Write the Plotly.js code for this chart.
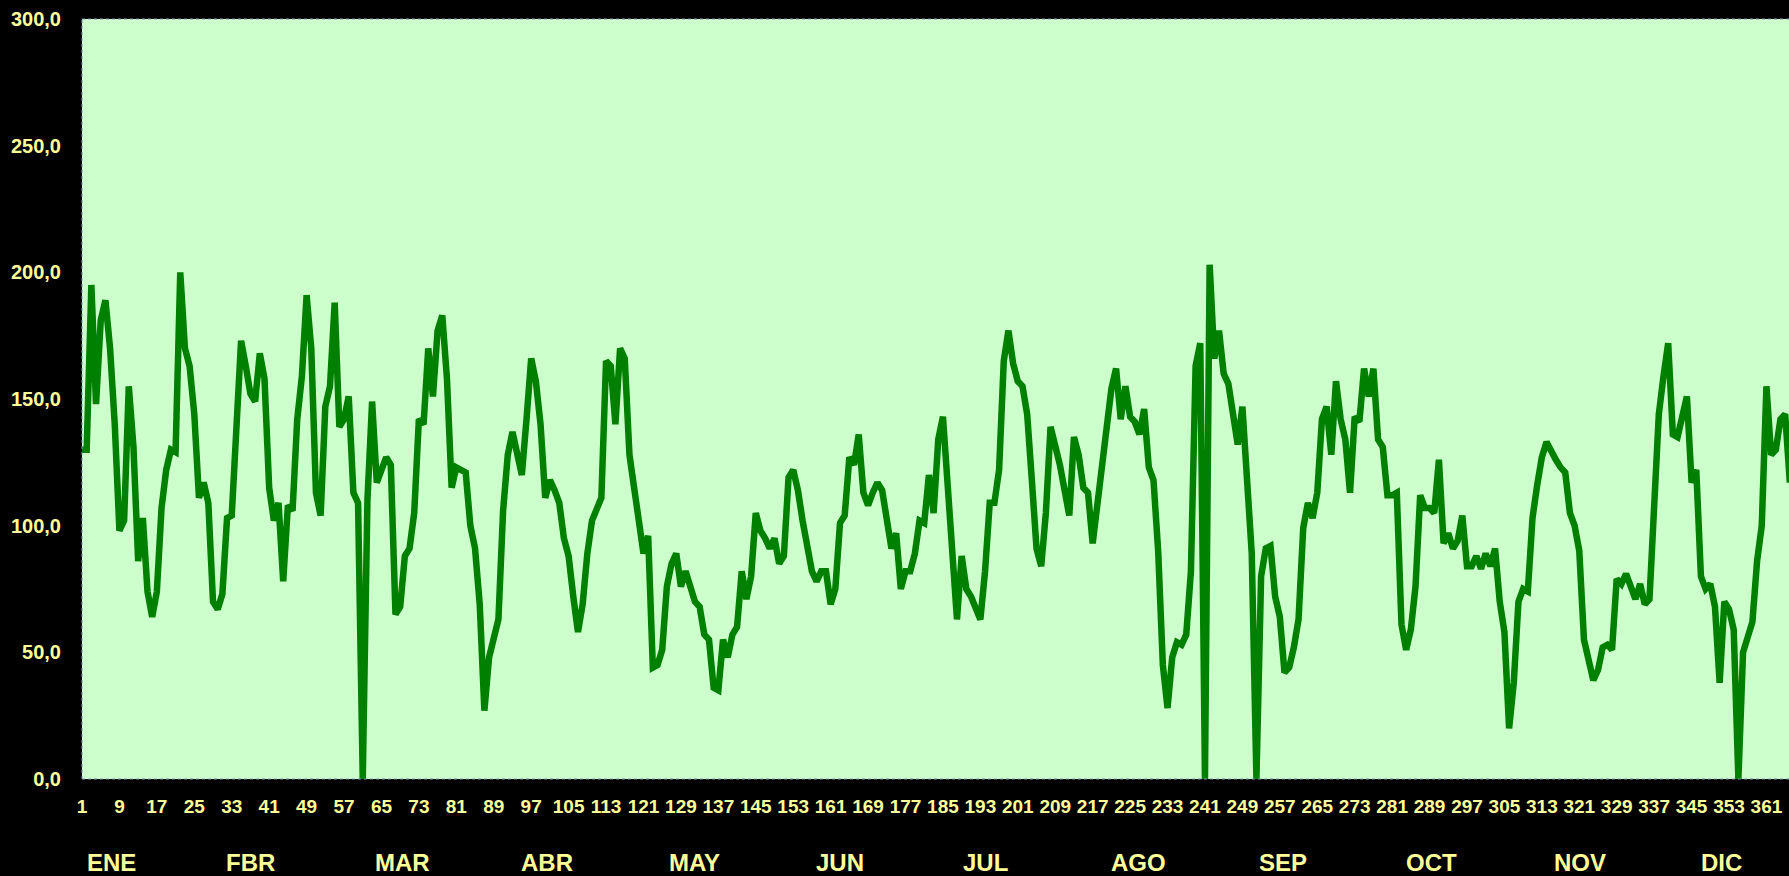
<!DOCTYPE html>
<html>
<head>
<meta charset="utf-8">
<script src="https://cdn.plot.ly/plotly-3.0.1.min.js"></script>
<style>
  html, body { margin: 0; padding: 0; background: #000000; }
  #chart { width: 1789px; height: 876px; }
</style>
</head>
<body>
<div id="chart"></div>
<script>
// Daily values, one array per month (leap year: 366 days)
const ene = [130,130,195,148,181,189,170,140,98,102,155,131,86,103,74,64,74,107,122,130,129,200,170,163,144,111,117,109,70,67,73];
const fbr = [103,104,144,173,163,152,149,168,158,115,102,109,78,108,106,142,159,191,170,113,104,147,155,188,139,142,151,113,109];
const mar = [0,110,149,117,123,127,124,65,68,88,91,105,142,140,170,151,177,183,158,115,123,122,121,100,91,69,27,48,57,63,106];
const abr = [128,137,128,120,142,166,157,140,111,118,114,109,95,88,72,58,69,89,102,107,111,165,163,140,170,166,128,115,102,89];
const may = [96,44,45,51,76,85,89,76,82,76,70,68,57,55,36,35,55,48,57,60,82,71,80,105,98,95,91,95,85,88,119];
const jun = [122,114,102,91,82,78,82,82,69,75,101,104,127,124,136,113,108,113,117,114,102,91,97,75,82,82,89,102,101,120];
const jul = [105,134,143,116,90,63,88,75,72,68,63,82,109,109,122,165,177,164,157,155,144,118,91,84,105,139,132,124,114,104,135];
const ago = [128,115,113,93,108,126,142,154,162,142,155,143,141,136,146,123,118,90,45,28,48,54,53,57,82,163,172,0,203,166,177];
const sep = [160,156,144,132,147,115,89,0,80,91,92,72,64,42,44,52,63,99,109,103,113,142,147,128,157,142,134,113,143,141];
const oct = [162,151,162,134,131,112,112,113,61,51,59,76,112,107,107,105,126,93,97,91,94,104,84,84,88,83,89,84,91,70,58];
const nov = [20,38,70,75,74,103,116,127,133,129,126,123,121,105,100,90,55,47,39,43,52,53,51,79,77,81,75,71,77,69];
const dic = [71,115,144,159,172,136,135,143,151,117,122,80,75,77,68,38,70,67,59,0,50,56,62,86,100,155,128,130,142,144,117];

const monthNames = ["ENE","FBR","MAR","ABR","MAY","JUN","JUL","AGO","SEP","OCT","NOV","DIC"];
const monthLabelDay = [7.2, 37.1, 69.4, 100.4, 132, 163, 194, 226.7, 257.7, 289.5, 321.2, 351.5];
const xTickVals = [1,9,17,25,33,41,49,57,65,73,81,89,97,105,113,121,129,137,145,153,161,169,177,185,193,201,209,217,225,233,241,249,257,265,273,281,289,297,305,313,321,329,337,345,353,361];
const yTickVals = [0,50,100,150,200,250,300];

const values = [].concat(ene, fbr, mar, abr, may, jun, jul, ago, sep, oct, nov, dic);
const days = values.map((v, i) => i + 1);

const yellow = '#FFFF99';
const fontFam = '"Liberation Sans", Arial, sans-serif';

const trace = {
  x: days,
  y: values,
  type: 'scatter',
  mode: 'lines',
  line: { color: '#008000', width: 6.5 },
  hoverinfo: 'skip'
};

const annotations = monthNames.map((m, i) => ({
  text: m,
  x: monthLabelDay[i],
  xref: 'x',
  y: -0.1105,
  yref: 'paper',
  xanchor: 'center',
  yanchor: 'middle',
  showarrow: false,
  font: { family: fontFam, size: 24, color: yellow, weight: 'bold' }
}));

const borderStyle = { color: '#7f95b5', width: 1, dash: 'dot' };

const layout = {
  width: 1789,
  height: 876,
  paper_bgcolor: '#000000',
  plot_bgcolor: '#CCFFCC',
  separators: ',.',
  showlegend: false,
  margin: { l: 82, r: 0, t: 19, b: 97, pad: 0 },
  xaxis: {
    range: [1, 1 + (1789 - 82) / 4.679],
    tickmode: 'array',
    tickvals: xTickVals,
    ticktext: xTickVals.map(String),
    ticks: 'outside',
    ticklen: 10,
    tickcolor: 'rgba(0,0,0,0)',
    showgrid: false,
    zeroline: false,
    showline: false,
    tickfont: { family: fontFam, size: 19, color: yellow, weight: 'bold' }
  },
  yaxis: {
    range: [0, 300],
    tickmode: 'array',
    tickvals: yTickVals,
    tickformat: '.1f',
    ticks: 'outside',
    ticklen: 16,
    tickcolor: 'rgba(0,0,0,0)',
    showgrid: false,
    zeroline: false,
    showline: false,
    tickfont: { family: fontFam, size: 20, color: yellow, weight: 'bold' }
  },
  shapes: [
    { type: 'line', xref: 'paper', yref: 'paper', x0: 0, x1: 1, y0: 1, y1: 1, line: borderStyle },
    { type: 'line', xref: 'paper', yref: 'paper', x0: 0, x1: 1, y0: 0, y1: 0, line: borderStyle },
    { type: 'line', xref: 'paper', yref: 'paper', x0: 0, x1: 0, y0: 0, y1: 1, line: borderStyle }
  ],
  annotations: annotations
};

Plotly.newPlot('chart', [trace], layout, { displayModeBar: false, staticPlot: true });
</script>
</body>
</html>
